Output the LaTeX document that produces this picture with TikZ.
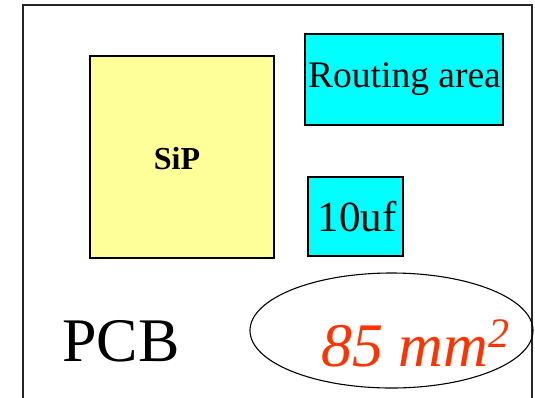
\documentclass[tikz,border=0pt]{standalone}
\usepackage{fontspec}
\setmainfont{Liberation Serif}
\definecolor{sipyellow}{RGB}{255,255,153}
\definecolor{areacyan}{RGB}{0,255,255}
\definecolor{arealabel}{RGB}{255,51,0}
\begin{document}
\begin{tikzpicture}[x=1pt,y=-1pt,
  block/.style={draw=black,line width=1.4pt,inner sep=0pt},
  fs/.style={font=\fontsize{#1}{#1}\selectfont}]
\useasboundingbox (0,0) rectangle (535,397);
% board outline (runs past the lower edge)
\draw[line width=1.6pt,black!85] (23,420) -- (23,5) -- (532,5) -- (532,420);
% parts on the board
\path[block,fill=sipyellow] (90,56) rectangle (274,258);
\node[fs=32,inner sep=0pt] (sip) at (177,159) {\bfseries SiP};
\node[block,fill=areacyan,minimum width=198pt,minimum height=91pt,fs=37.5] (route) at (404,79.5) {\hspace{1pt}Routing area};
\node[block,fill=areacyan,minimum width=95pt,minimum height=79pt,fs=43] (cap) at (355.5,216.5) {\hspace{3pt}10uf};
% board label and area callout
\node[fs=62,inner sep=0pt,anchor=base west] (pcb) at (62,361) {PCB};
\draw[line width=1.1pt] (391.5,330.5) ellipse [x radius=141.5, y radius=57.5];
\node[fs=62,inner sep=0pt,anchor=base west,text=arealabel] (area) at (321,366)
  {\itshape 85 mm\raisebox{19pt}{\fontsize{42}{42}\selectfont 2}};
\end{tikzpicture}
\end{document}
